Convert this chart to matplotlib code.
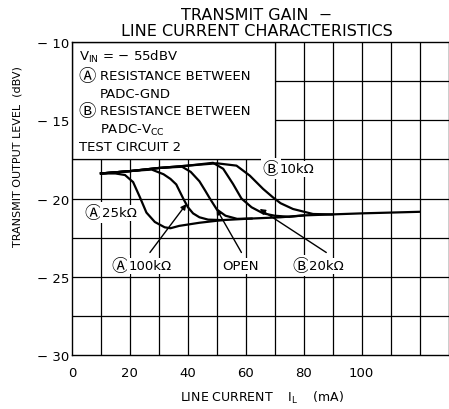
import matplotlib
matplotlib.use("Agg")
import matplotlib.pyplot as plt
from matplotlib.patches import Rectangle

plt.rcParams['font.family'] = ['DejaVu Sans', 'Noto Sans CJK JP']

# ---- data (line current mA, transmit output level dBV) ----
a25k_x = [10, 15, 18.3, 21.1, 23.4, 25.7, 28.6, 32, 34, 37, 44, 52, 62, 72, 80, 100, 120]
a25k_y = [-18.4, -18.4, -18.5, -18.95, -19.9, -20.9, -21.5, -21.84, -21.9, -21.75, -21.55,
          -21.38, -21.28, -21.2, -21.08, -20.95, -20.85]

a100k_x = [10, 20, 27.5, 31.6, 34, 36, 38.4, 40, 41.8, 44, 47, 52]
a100k_y = [-18.4, -18.25, -18.15, -18.45, -18.75, -19.1, -20.0, -20.55, -20.95, -21.2, -21.35, -21.38]

open_x = [10, 20, 30, 38, 41, 44, 46, 47.6, 50, 53, 57, 62]
open_y = [-18.4, -18.25, -18.05, -17.97, -18.3, -18.9, -19.5, -20.0, -20.7, -21.1, -21.3, -21.28]

b20k_x = [10, 20, 30, 40, 48.7, 52.2, 55.6, 58.5, 62, 66, 70, 75, 80]
b20k_y = [-18.4, -18.25, -18.05, -17.9, -17.72, -18.1, -19.07, -20.0, -20.56, -20.95, -21.1, -21.17, -21.08]

b10k_x = [10, 20, 30, 40, 50, 56.8, 61.4, 66, 69.4, 72, 76.3, 83.2, 90]
b10k_y = [-18.4, -18.25, -18.05, -17.9, -17.75, -17.9, -18.54, -19.39, -19.93, -20.3, -20.67, -20.99, -21.02]

x_ticks = [0, 20, 40, 60, 80, 100]
x_tick_labels = ["0", "20", "40", "60", "80", "100"]
y_ticks = [-10, -15, -20, -25, -30]
y_tick_labels = ["− 10", "− 15", "− 20", "− 25", "− 30"]

# (circled letter, rest of label)
curve_labels = [("Ⓐ", "25kΩ"), ("Ⓐ", "100kΩ"), ("", "OPEN"), ("Ⓑ", "20kΩ"), ("Ⓑ", "10kΩ")]

info_lines = [("", r"V$_{\rm IN}$ = − 55dBV"), ("Ⓐ", "RESISTANCE BETWEEN"), ("", "PADC-GND"),
              ("Ⓑ", "RESISTANCE BETWEEN"), ("", r"PADC-V$_{\rm CC}$"), ("", "TEST CIRCUIT 2")]

# ---- figure ----
W, H = 449, 410
fig = plt.figure(figsize=(W / 100, H / 100), dpi=100)
ax = fig.add_axes([72 / W, 1 - 356 / H, 376.5 / W, 313 / H])
ax.set_xlim(0, 130)
ax.set_ylim(-30, -10)

# grid
for gx in range(10, 130, 10):
    ax.axvline(gx, color='black', lw=0.9, zorder=1)
for gy in [-12.5, -15, -17.5, -20, -22.5, -25, -27.5]:
    ax.axhline(gy, color='black', lw=0.9, zorder=1)

# white info box
ax.add_patch(Rectangle((0, -17.5), 70, 7.5, facecolor='white', edgecolor='black', lw=0.9, zorder=2))

for sp in ax.spines.values():
    sp.set_linewidth(1.0)
    sp.set_zorder(5)

lw = 1.6
for xs, ys in [(a25k_x, a25k_y), (a100k_x, a100k_y), (open_x, open_y),
               (b20k_x, b20k_y), (b10k_x, b10k_y)]:
    ax.plot(xs, ys, color='black', lw=lw, solid_joinstyle='round', zorder=3)

fs = 9.5
cfs = 12.5  # circled letter size

# info text
info_rows = [-10.9, -12.17, -13.3, -14.4, -15.56, -16.65]
for ty, (c, t) in zip(info_rows, info_lines):
    if c:
        ax.text(2.1, ty, c, fontsize=cfs, ha='left', va='center', zorder=6)
        ax.text(9.6, ty, t, fontsize=fs, ha='left', va='center', zorder=6)
    else:
        tx = 9.6 if t.startswith("PADC") else 2.5
        ax.text(tx, ty, t, fontsize=fs, ha='left', va='center', zorder=6)

# curve labels
bb = dict(facecolor='white', edgecolor='none', pad=1.0)
lab_pos = [(4.3, -20.9), (13.6, -24.3), (52.0, -24.3), (76.0, -24.3), (65.7, -18.1)]
for (lx, ly), (c, t) in zip(lab_pos, curve_labels):
    if c:
        t1 = ax.text(lx, ly, c, fontsize=cfs, ha='left', va='center', bbox=bb, zorder=6)
        ax.annotate(t, xy=(1, 0.5), xycoords=t1, fontsize=fs, ha='left', va='center',
                    bbox=bb, zorder=6)
    else:
        ax.text(lx, ly, t, fontsize=fs, ha='left', va='center', bbox=bb, zorder=6)

ap = dict(arrowstyle='-|>', color='black', lw=1.0, mutation_scale=8, shrinkA=0, shrinkB=0)
ax.annotate("", xy=(39.5, -20.35), xytext=(26.9, -23.45), arrowprops=ap, zorder=6)
ax.annotate("", xy=(49.9, -20.67), xytext=(58.5, -23.45), arrowprops=ap, zorder=6)
ax.annotate("", xy=(64.8, -20.67), xytext=(87.8, -23.45), arrowprops=ap, zorder=6)

# ticks
ax.set_xticks(x_ticks)
ax.set_xticklabels(x_tick_labels, fontsize=fs)
ax.set_yticks(y_ticks)
ax.set_yticklabels(y_tick_labels, fontsize=fs)
ax.tick_params(axis='x', length=0, pad=8)
ax.tick_params(axis='y', length=0, pad=2)

# titles
fig.text(257 / W, 1 - 15 / H, "TRANSMIT GAIN  −", fontsize=11.5, ha='center', va='center')
fig.text(257 / W, 1 - 31 / H, "LINE CURRENT CHARACTERISTICS", fontsize=11.5, ha='center', va='center')
fig.text(18 / W, 1 - 157 / H, "TRANSMIT OUTPUT LEVEL  (dBV)", fontsize=8, rotation=90,
         ha='center', va='center')
fig.text(262 / W, 1 - 398 / H, r"LINE CURRENT    I$_{\rm L}$    (mA)", fontsize=9,
         ha='center', va='center')

fig.savefig("out.png", dpi=100)
